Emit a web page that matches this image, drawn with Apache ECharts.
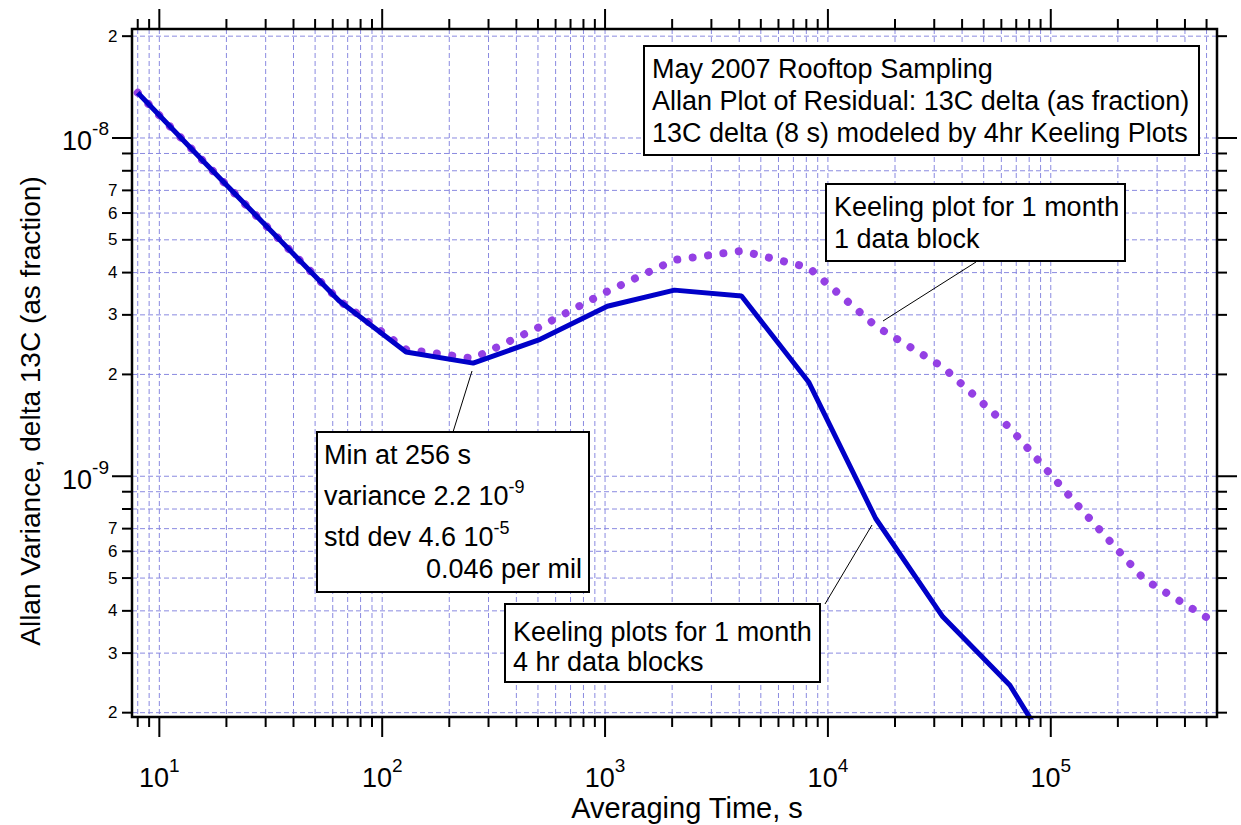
<!DOCTYPE html>
<html><head><meta charset="utf-8">
<script src="https://cdn.jsdelivr.net/npm/echarts@6/dist/echarts.min.js"></script>
<style>html,body{margin:0;padding:0;background:#fff}#c{width:1241px;height:825px}</style>
</head><body><div id="c"></div>
<script>
// ---- data ----
const tau = [8,16,32,64,128,256,512,1024,2048,4096,8192,16384,32768,65536,131072,262144,524288];
const var4hrBlocks = [1.36e-8, 8.45e-9, 5.28e-9, 3.30e-9, 2.33e-9, 2.16e-9, 2.54e-9, 3.18e-9, 3.55e-9, 3.41e-9, 1.90e-9, 7.50e-10, 3.84e-10, 2.41e-10, 1.15e-10];
const var1Block = [1.36e-8, 8.45e-9, 5.28e-9, 3.31e-9, 2.37e-9, 2.23e-9, 2.77e-9, 3.52e-9, 4.36e-9, 4.64e-9, 4.14e-9, 2.78e-9, 2.105e-9, 1.39e-9, 8.25e-10, 4.96e-10, 3.755e-10];
const xDecadeExponents = [1,2,3,4,5];
const yDecadeExponents = [-9,-8];
const yMinorTickLabels = ['2','3','4','5','6','7'];
const xRange = [7.54, 5.57e5];
const yRange = [1.942e-10, 2.10e-8];
const xTitle = 'Averaging Time, s';
const yTitle = 'Allan Variance, delta 13C (as fraction)';
const titleLines = ['May 2007 Rooftop Sampling','Allan Plot of Residual: 13C delta (as fraction)','13C delta (8 s) modeled by 4hr Keeling Plots'];
const note1Block = ['Keeling plot for 1 month','1 data block'];
const note4hr = ['Keeling plots for 1 month','4 hr data blocks'];
const noteMin = ['Min at 256 s','variance 2.2 10{s|-9}','std dev 4.6 10{s|-5}','0.046 per mil'];

const FONT = '"Liberation Sans", Arial, Helvetica, sans-serif';
const GRID = {left:132, top:29, width:1085, height:688};
const chart = echarts.init(document.getElementById('c'), null, {renderer:'svg'});
const pairs = ys => ys.map((v,i)=>[tau[i], v]);

chart.setOption({
  animation:false,
  backgroundColor:'#fff',
  grid:{left:GRID.left, top:GRID.top, width:GRID.width, height:GRID.height, show:false},
  xAxis:{type:'log', logBase:10, min:xRange[0], max:xRange[1],
    axisLine:{show:false}, axisTick:{show:false}, splitLine:{show:false}, minorTick:{show:false}, axisLabel:{show:false}},
  yAxis:{type:'log', logBase:10, min:yRange[0], max:yRange[1],
    axisLine:{show:false}, axisTick:{show:false}, splitLine:{show:false}, minorTick:{show:false}, axisLabel:{show:false}},
  series:[
    {name:'Keeling plot for 1 month, 1 data block', type:'line', data:pairs(var1Block), symbol:'none', clip:true, z:3,
     lineStyle:{color:'#9440e4', width:8, type:[0.01,15.5], cap:'round'}},
    {name:'Keeling plots for 1 month, 4 hr data blocks', type:'line', data:pairs(var4hrBlocks), symbol:'none', clip:true, z:4,
     lineStyle:{color:'#0000c8', width:5}}
  ]
});

// ---- grid lines, ticks, tick labels, annotations ----
const g = [];
const L = GRID.left, T = GRID.top, R = GRID.left + GRID.width, B = GRID.top + GRID.height;
const px = v => chart.convertToPixel({xAxisIndex:0}, v);
const py = v => chart.convertToPixel({yAxisIndex:0}, v);
const mctx = document.createElement('canvas').getContext('2d');
function measure(s, font){ mctx.font = font; return mctx.measureText(s).width; }
function logValues(range){
  const out = [];
  for (let e = Math.floor(Math.log10(range[0])); e <= Math.ceil(Math.log10(range[1])); e++){
    for (let m = 1; m <= 9; m++){
      const v = m * Math.pow(10, e);
      if (v > range[0]*1.0001 && v < range[1]*0.9999) out.push({v, m, e});
    }
  }
  return out;
}
const gridStyle = {stroke:'#8a8ae0', lineWidth:1, lineDash:[5,3]};
const tickStyle = {stroke:'#000', lineWidth:2};
const baseFont = '27px ' + FONT, supFont = '19px ' + FONT;
const supRich = {s:{fontSize:18, fontFamily:FONT, lineHeight:10, verticalAlign:'top', fill:'#000'}};
function plainText(s, x, y, font, align){
  return {type:'text', z:6, silent:true, x, y, style:{text:s, font, fill:'#000', align, verticalAlign:'middle'}};
}
logValues(xRange).forEach(({v,m,e}) => {
  const x = px(v);
  const len = m === 1 ? 20 : 10;
  g.push({type:'line', z:1, silent:true, shape:{x1:x, y1:T, x2:x, y2:B}, style:gridStyle});
  g.push({type:'line', z:6, silent:true, shape:{x1:x, y1:B, x2:x, y2:B+len}, style:tickStyle});
  g.push({type:'line', z:6, silent:true, shape:{x1:x, y1:T, x2:x, y2:T-len}, style:tickStyle});
  if (m === 1 && xDecadeExponents.includes(e)){
    const w1 = measure('10', baseFont), w2 = measure(String(e), supFont);
    const x0 = x - (w1 + w2) / 2;
    g.push(plainText('10', x0, 778, baseFont, 'left'));
    g.push(plainText(String(e), x0 + w1, 765, supFont, 'left'));
  }
});
logValues(yRange).forEach(({v,m,e}) => {
  const y = py(v);
  const len = m === 1 ? 20 : 10;
  g.push({type:'line', z:1, silent:true, shape:{x1:L, y1:y, x2:R, y2:y}, style:gridStyle});
  g.push({type:'line', z:6, silent:true, shape:{x1:L, y1:y, x2:L-len, y2:y}, style:tickStyle});
  g.push({type:'line', z:6, silent:true, shape:{x1:R, y1:y, x2:R+len, y2:y}, style:tickStyle});
  if (m === 1 && yDecadeExponents.includes(e)){
    const w2 = measure(String(e), supFont);
    g.push(plainText(String(e), L - 23, y - 9, supFont, 'right'));
    g.push(plainText('10', L - 23 - w2, y + 3.5, baseFont, 'right'));
  }
  if (m >= 2 && m <= 7){
    g.push(plainText(yMinorTickLabels[m-2], L - 14.5, y, '17px ' + FONT, 'right'));
  }
});
// frame
g.push({type:'rect', z:7, silent:true, shape:{x:L, y:T, width:GRID.width, height:GRID.height}, style:{fill:null, stroke:'#000', lineWidth:2.5}});

// axis titles
g.push({type:'text', z:6, x:687, y:808, style:{text:xTitle, font:'29px ' + FONT, fill:'#000', align:'center', verticalAlign:'middle'}});
g.push({type:'text', z:6, x:30, y:411, rotation:Math.PI/2, style:{text:yTitle, font:'28px ' + FONT, fill:'#000', align:'center', verticalAlign:'middle'}});

// annotation boxes
const annFont = '27px ' + FONT;
function box(x, y, w, h){ g.push({type:'rect', z:8, silent:true, shape:{x, y, width:w, height:h}, style:{fill:'#fff', stroke:'#000', lineWidth:2}}); }
function txt(s, x, y, align){
  g.push({type:'text', z:9, silent:true, x, y, style:{text:s, font:annFont, fill:'#000', align:align || 'left', verticalAlign:'middle',
    lineHeight:36, rich:supRich}});
}
function leader(x1, y1, x2, y2){ g.push({type:'line', z:8, silent:true, shape:{x1, y1, x2, y2}, style:{stroke:'#000', lineWidth:1}}); }

box(644, 46, 555, 109);
titleLines.forEach((s,i) => txt(s, 652, 69 + i*32));

leader(976, 262, 883, 321);
box(826, 184, 299, 77);
txt(note1Block[0], 834, 207);
txt(note1Block[1], 834, 238.5);

leader(453, 432, 472, 371);
box(317, 432, 272, 160);
txt(noteMin[0], 324, 454.5);
txt(noteMin[1], 324, 496);
txt(noteMin[2], 324, 537);
txt(noteMin[3], 582, 569, 'right');

leader(825, 604, 872, 525);
box(505, 604, 315, 78);
txt(note4hr[0], 513, 632);
txt(note4hr[1], 513, 662);

chart.setOption({graphic:{elements:g}});
</script></body></html>
